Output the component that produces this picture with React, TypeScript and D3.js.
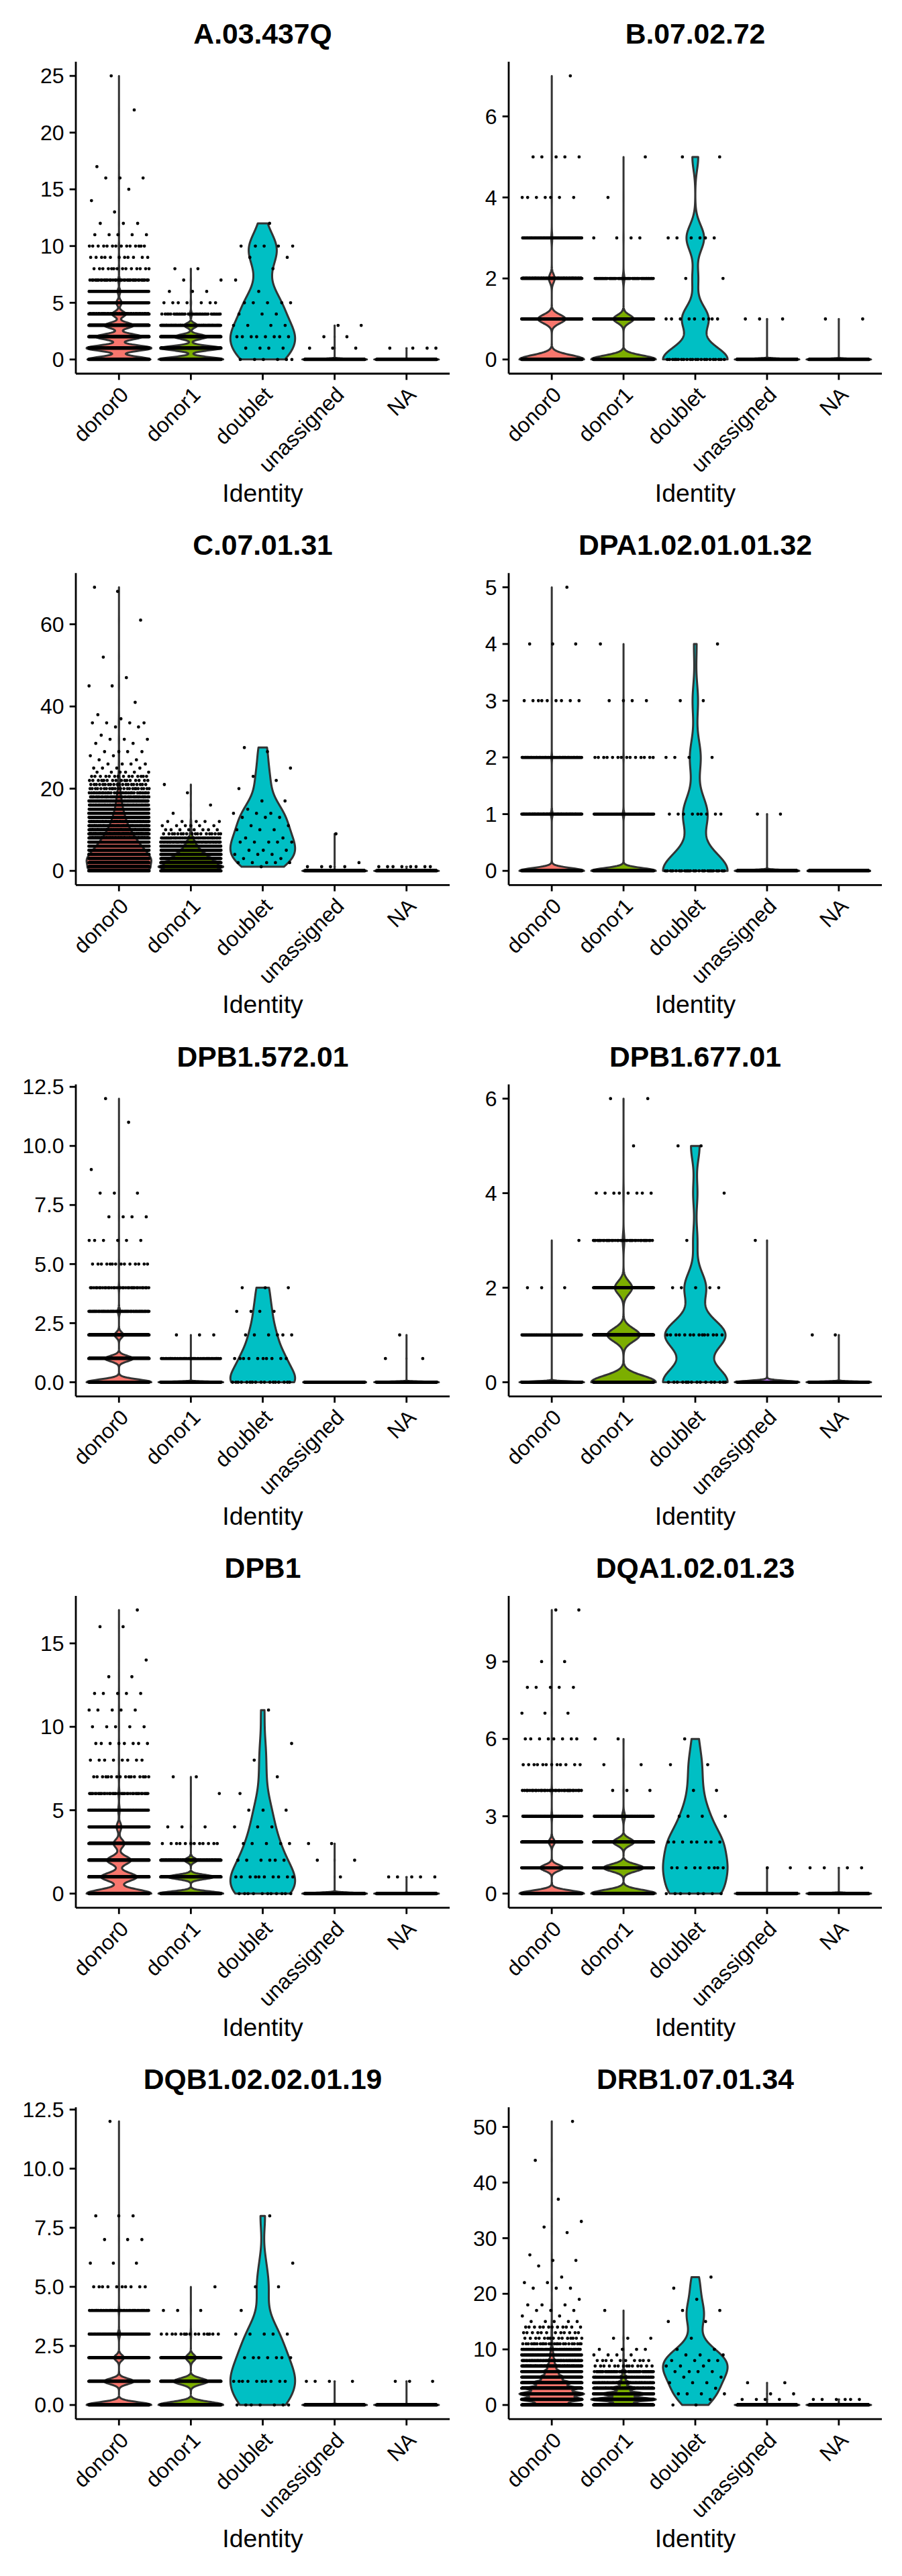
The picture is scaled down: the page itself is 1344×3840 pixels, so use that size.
import { useMemo } from 'react';
import * as d3 from 'd3';

const WIDTH = 1344;
const HEIGHT = 3840;
const FONT = '"Liberation Sans", Arial, Helvetica, sans-serif';
const PT = 192 / 72; // ggplot points -> px at the 192 dpi export

// Identities on the x axis, and their ggplot hue fills
const identities = ['donor0', 'donor1', 'doublet', 'unassigned', 'NA'];
const identityFills = ['#F8766D', '#7CAE00', '#00BFC4', '#C77CFF', '#7F7F7F'];

// Panel titles, in reading order (2 per row)
const features = [
  'A.03.437Q',
  'B.07.02.72',
  'C.07.01.31',
  'DPA1.02.01.01.32',
  'DPB1.572.01',
  'DPB1.677.01',
  'DPB1',
  'DQA1.02.01.23',
  'DQB1.02.02.01.19',
  'DRB1.07.01.34',
];

const yTicks = [
  [0, 5, 10, 15, 20, 25],
  [0, 2, 4, 6],
  [0, 20, 40, 60],
  [0, 1, 2, 3, 4, 5],
  [0, 2.5, 5, 7.5, 10, 12.5],
  [0, 2, 4, 6],
  [0, 5, 10, 15],
  [0, 3, 6, 9],
  [0, 2.5, 5, 7.5, 10, 12.5],
  [0, 10, 20, 30, 40, 50],
];

const yTickLabels = [
  ['0', '5', '10', '15', '20', '25'],
  ['0', '2', '4', '6'],
  ['0', '20', '40', '60'],
  ['0', '1', '2', '3', '4', '5'],
  ['0.0', '2.5', '5.0', '7.5', '10.0', '12.5'],
  ['0', '2', '4', '6'],
  ['0', '5', '10', '15'],
  ['0', '3', '6', '9'],
  ['0.0', '2.5', '5.0', '7.5', '10.0', '12.5'],
  ['0', '10', '20', '30', '40', '50'],
];

// Number of cells at each expression value (array index = value),
// one array per identity: donor0, donor1, doublet, unassigned, NA
const countsA03 = [
  [1650, 1700, 1200, 760, 360, 140, 70, 40, 14, 11, 14, 5, 3, 1, 1, 1, 3, 1, 0, 0, 0, 0, 1, 0, 0, 1],
  [950, 870, 480, 190, 30, 7, 3, 2, 2],
  [6, 4, 8, 4, 3, 5, 1, 1, 1, 2, 5, 0, 1],
  [600, 3, 2, 2],
  [600, 4],
];

const countsB07 = [
  [3900, 1650, 350, 60, 7, 5, 0, 1],
  [1850, 580, 50, 4, 1, 1],
  [22, 9, 2, 6, 0, 2],
  [600, 3],
  [600, 2],
];

const countsC07 = [
  [
    700, 620, 660, 660, 600, 540, 460, 400, 340, 280,
    240, 190, 160, 130, 110, 84, 70, 56, 44, 32,
    24, 20, 16, 14, 6, 4, 4, 2, 2, 4,
    0, 2, 3, 1, 0, 2, 4, 1, 1, 0,
    0, 1, 0, 0, 0, 2, 0, 1, 0, 0,
    0, 0, 1, 0, 0, 0, 0, 0, 0, 0,
    0, 1, 0, 0, 0, 0, 0, 0, 1, 1,
  ],
  [450, 520, 450, 350, 260, 175, 120, 75, 40, 18, 8, 6, 5, 0, 1, 0, 1, 0, 0, 1, 0, 1],
  [0, 1, 5, 2, 3, 3, 0, 5, 2, 0, 3, 2, 0, 3, 3, 1, 0, 2, 0, 0, 1, 0, 1, 1, 0, 1, 0, 0, 0, 1, 1],
  [600, 4, 1, 0, 0, 0, 0, 0, 0, 1],
  [600, 8],
];

const countsDPA1 = [
  [5750, 160, 70, 9, 3, 1],
  [2400, 60, 14, 4, 1],
  [24, 9, 4, 2, 1],
  [600, 2],
  [600],
];

const countsDPB1572 = [
  [3700, 1600, 500, 130, 35, 14, 6, 4, 3, 1, 0, 1, 1],
  [2440, 40, 3],
  [17, 10, 6, 4, 3],
  [600],
  [600, 2, 1],
];

const countsDPB1677 = [
  [5930, 60, 3, 1],
  [1500, 750, 400, 40, 8, 1, 2],
  [15, 14, 5, 1, 1, 2],
  [600, 0, 0, 1],
  [600, 2],
];

const countsDPB1 = [
  [2700, 1500, 1000, 450, 200, 60, 40, 16, 8, 8, 5, 5, 5, 2, 1, 0, 2, 1],
  [1550, 1100, 300, 12, 3, 0, 1, 2],
  [11, 10, 6, 5, 3, 3, 1, 1, 1, 1, 0, 1],
  [600, 1, 2, 2],
  [600, 5],
];

const countsDQA1 = [
  [4050, 1450, 380, 60, 35, 12, 8, 3, 5, 2, 0, 2],
  [1300, 800, 420, 60, 3, 2, 2],
  [8, 9, 8, 4, 2, 2, 1],
  [600, 2],
  [600, 4],
];

const countsDQB1 = [
  [3600, 1650, 550, 130, 40, 10, 3, 3, 3, 0, 0, 0, 1],
  [1600, 850, 250, 15, 3, 1],
  [7, 10, 7, 5, 1, 2, 1, 0, 1],
  [600, 4],
  [600, 3],
];

const countsDRB1 = [
  [
    700, 1150, 1200, 950, 700, 450, 300, 190, 120, 75,
    50, 25, 15, 12, 12, 5, 2, 3, 3, 1,
    0, 3, 2, 1, 0, 1, 2, 1, 0, 0,
    0, 1, 1, 1, 0, 0, 0, 1, 0, 0,
    0, 0, 0, 0, 1, 0, 0, 0, 0, 0,
    0, 1,
  ],
  [500, 800, 550, 300, 160, 90, 50, 14, 10, 4, 4, 0, 3, 0, 0, 0, 0, 1],
  [2, 1, 4, 1, 3, 2, 4, 3, 4, 3, 2, 0, 1, 0, 0, 2, 0, 2, 0, 1, 0, 1, 0, 1],
  [600, 4, 2, 0, 2],
  [600, 6],
];

const featureCounts = [
  countsA03,
  countsB07,
  countsC07,
  countsDPA1,
  countsDPB1572,
  countsDPB1677,
  countsDPB1,
  countsDQA1,
  countsDQB1,
  countsDRB1,
];

// Layout (px)
const colLeft = [113, 758];
const colRight = [670, 1314];
const rowTop0 = 92;
const rowStep = 762.3;
const plotHeight = 465;
const lineW = 2.8;
const violinW = 3;
const dotR = 2.4;
const tickLen = 3.5 * PT;
const textMargin = 3 * PT;

// Expand counts into sorted cell values
function expandCounts(counts: number[]) {
  const vals: number[] = [];
  counts.forEach((c, v) => {
    for (let j = 0; j < c; j++) vals.push(v);
  });
  return vals;
}

// geom_violin(scale = 'width', trim = TRUE) with bw.nrd0
function violinDensity(counts: number[]) {
  const vals = expandCounts(counts);
  const n = vals.length;
  const vmin = vals[0];
  const vmax = vals[n - 1];
  if (vmin === vmax) return { flat: true, vmin, pts: [] as { v: number; w: number }[] };
  const sd = d3.deviation(vals) ?? 0;
  const iqr = (d3.quantileSorted(vals, 0.75) ?? 0) - (d3.quantileSorted(vals, 0.25) ?? 0);
  let lo = Math.min(sd, iqr / 1.34);
  if (!lo) lo = sd || Math.abs(vals[0]) || 1;
  const bw = 0.9 * lo * Math.pow(n, -0.2);
  const grid = d3.range(512).map((i) => vmin + ((vmax - vmin) * i) / 511);
  const dens = grid.map((g) => {
    let s = 0;
    counts.forEach((c, v) => {
      if (!c) return;
      const z = (g - v) / bw;
      s += c * Math.exp(-0.5 * z * z);
    });
    return s;
  });
  const m = d3.max(dens) || 1;
  return { flat: false, vmin, pts: grid.map((g, i) => ({ v: g, w: dens[i] / m })) };
}

function Panel({ index }: { index: number }) {
  const col = index % 2;
  const row = Math.floor(index / 2);
  const left = colLeft[col];
  const right = colRight[col];
  const top = rowTop0 + row * rowStep;
  const bottom = top + plotHeight;
  const counts = featureCounts[index];

  const { x, y, violins, dots } = useMemo(() => {
    const vmax = d3.max(counts, (c) => c.length - 1) ?? 1;
    const y = d3
      .scaleLinear()
      .domain([-0.05 * vmax, vmax * 1.05])
      .range([bottom, top]);
    const x = d3.scalePoint<string>().domain(identities).range([left, right]).padding(0.6);
    const step = x.step();
    const halfW = 0.45 * step;

    const violins = counts.map((c, g) => {
      const cx = x(identities[g]) ?? 0;
      const shape = violinDensity(c);
      if (shape.flat) {
        return `M${cx - halfW},${y(shape.vmin)}L${cx + halfW},${y(shape.vmin)}`;
      }
      const area = d3
        .area<{ v: number; w: number }>()
        .y((d) => y(d.v))
        .x0((d) => cx - halfW * d.w)
        .x1((d) => cx + halfW * d.w);
      return area(shape.pts) ?? '';
    });

    // geom_jitter(height = 0): spread cells across the band, low-discrepancy order
    const golden = 0.6180339887498949;
    const d2 = (2 * dotR).toFixed(1);
    const dots = counts.map((c, g) => {
      const cx = x(identities[g]) ?? 0;
      const seed = (index * 0.291 + g * 0.137) % 1;
      const parts: string[] = [];
      let i = 0;
      c.forEach((cnt, v) => {
        const py = y(v).toFixed(1);
        for (let j = 0; j < cnt; j++) {
          const u = ((i + 1) * golden + seed) % 1;
          const px = cx + (2 * u - 1) * 0.42 * step - dotR;
          parts.push(`M${px.toFixed(1)},${py}a${dotR},${dotR} 0 1 0 ${d2},0a${dotR},${dotR} 0 1 0 -${d2},0`);
          i++;
        }
      });
      return parts.join('');
    });

    return { x, y, violins, dots };
  }, [counts, index, left, right, top, bottom]);

  const cxMid = (left + right) / 2;

  return (
    <g className="panel">
      {/* Violins */}
      {violins.map((d, g) => (
        <path
          key={`v${g}`}
          d={d}
          fill={identityFills[g]}
          stroke="#333333"
          strokeWidth={violinW}
          strokeLinejoin="round"
        />
      ))}
      {/* Jittered cells */}
      {dots.map((d, g) => (
        <path key={`p${g}`} d={d} fill="#000" stroke="none" />
      ))}

      {/* Axes */}
      <line x1={left} x2={left} y1={top} y2={bottom} stroke="#000" strokeWidth={lineW} />
      <line x1={left} x2={right} y1={bottom} y2={bottom} stroke="#000" strokeWidth={lineW} />

      {yTicks[index].map((t, k) => (
        <g key={`yt${k}`}>
          <line x1={left - tickLen} x2={left} y1={y(t)} y2={y(t)} stroke="#000" strokeWidth={lineW} />
          <text
            x={left - tickLen - textMargin}
            y={y(t)}
            dy="0.35em"
            textAnchor="end"
            fontSize={12 * PT}
            fill="#000"
          >
            {yTickLabels[index][k]}
          </text>
        </g>
      ))}

      {identities.map((id) => {
        const cx = x(id) ?? 0;
        return (
          <g key={`xt${id}`}>
            <line x1={cx} x2={cx} y1={bottom} y2={bottom + tickLen} stroke="#000" strokeWidth={lineW} />
            <text
              transform={`translate(${cx},${bottom + tickLen + textMargin}) rotate(-45)`}
              dy="0.71em"
              textAnchor="end"
              fontSize={12 * PT}
              fill="#000"
            >
              {id}
            </text>
          </g>
        );
      })}

      <text x={cxMid} y={bottom + 191} textAnchor="middle" fontSize={14 * PT} fill="#000">
        Identity
      </text>

      <text
        x={cxMid}
        y={top - 27}
        textAnchor="middle"
        fontSize={16 * PT}
        fontWeight="bold"
        fill="#000"
      >
        {features[index]}
      </text>
    </g>
  );
}

export default function App() {
  return (
    <svg
      width={WIDTH}
      height={HEIGHT}
      viewBox={`0 0 ${WIDTH} ${HEIGHT}`}
      style={{ position: 'absolute', left: 0, top: 0, display: 'block' }}
      fontFamily={FONT}
    >
      <rect width={WIDTH} height={HEIGHT} fill="#fff" />
      {features.map((f, i) => (
        <Panel key={f} index={i} />
      ))}
    </svg>
  );
}
